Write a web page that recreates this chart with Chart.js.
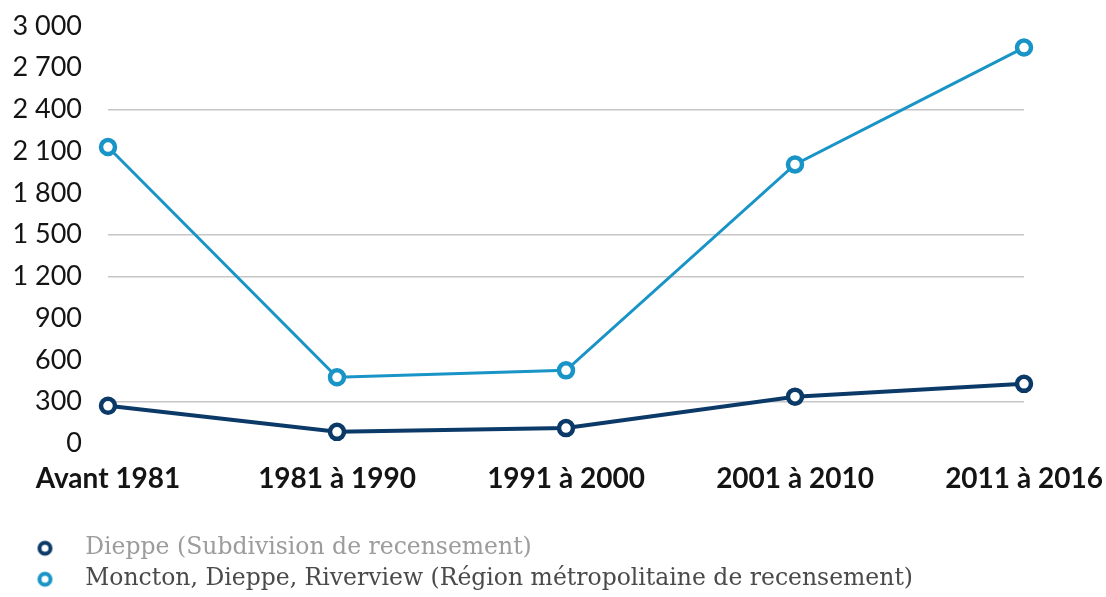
<!DOCTYPE html>
<html lang="fr">
<head>
<meta charset="utf-8">
<title>Logements selon la période de construction</title>
<script src="https://cdn.jsdelivr.net/npm/chart.js@4/dist/chart.umd.min.js"></script>
<style>
  html, body { margin: 0; padding: 0; background: #fff; }
  #wrap { width: 1106px; height: 597px; position: relative; }
</style>
</head>
<body>
<div id="wrap"><canvas id="chart"></canvas></div>
<script>
// data
const periods = ['Avant 1981', '1981 à 1990', '1991 à 2000', '2001 à 2010', '2011 à 2016'];
const dieppe = [270, 83, 110, 336, 428];
const moncton = [2130, 475, 525, 2005, 2845];
const seriesNames = [
  'Dieppe (Subdivision de recensement)',
  'Moncton, Dieppe, Riverview (Région métropolitaine de recensement)',
];
const gridValues = [300, 1200, 1500, 2400];

const navy = '#0c3a68';
const sky = '#1894c7';

// "3 000" style labels
const fmt = (v) => String(v).replace(/\B(?=(\d{3})+(?!\d))/g, ' ');

// ring marker for the legend (image keeps its own size, so the slot can be wide)
function ringImage(color) {
  const c = document.createElement('canvas');
  c.width = 60;
  c.height = 22;
  const g = c.getContext('2d');
  g.lineWidth = 4;
  g.strokeStyle = color;
  g.fillStyle = '#fff';
  g.beginPath();
  g.arc(32.5, 11, 5.5, 0, Math.PI * 2);
  g.fill();
  g.stroke();
  return c;
}
const legendColors = ['#9c9c9c', '#4a4a4a'];

new Chart(document.getElementById('chart'), {
  type: 'line',
  data: {
    labels: periods,
    datasets: [
      {
        label: seriesNames[0],
        data: dieppe,
        borderColor: navy,
        backgroundColor: '#fff',
        borderWidth: 4,
        pointRadius: 7,
        pointBorderWidth: 4.5,
        pointBackgroundColor: '#fff',
        pointBorderColor: navy,
        tension: 0,
      },
      {
        label: seriesNames[1],
        data: moncton,
        borderColor: sky,
        backgroundColor: '#fff',
        borderWidth: 3,
        pointRadius: 7,
        pointBorderWidth: 4.5,
        pointBackgroundColor: '#fff',
        pointBorderColor: sky,
        tension: 0,
      },
    ],
  },
  options: {
    responsive: true,
    maintainAspectRatio: false,
    animation: false,
    layout: { padding: { left: 4, right: 4, top: 0, bottom: -4 } },
    plugins: {
      tooltip: { enabled: false },
      legend: {
        position: 'bottom',
        align: 'start',
        labels: {
          usePointStyle: true,
          pointStyleWidth: 62,
          boxHeight: 18,
          padding: 7.5,
          font: { family: 'DejaVu Serif', size: 23.5 },
          generateLabels: (chart) => {
            const items = Chart.defaults.plugins.legend.labels.generateLabels(chart);
            items.forEach((it, i) => {
              it.pointStyle = ringImage(chart.data.datasets[i].borderColor);
              it.fontColor = legendColors[i];
            });
            return items;
          },
        },
      },
    },
    scales: {
      x: {
        offset: false,
        grid: { display: false, drawTicks: false },
        border: { display: false },
        afterFit: (scale) => {
          scale.paddingLeft = 0;
          scale.paddingRight = 82;
          scale.height += 15;
        },
        ticks: {
          color: '#141414',
          padding: 18.5,
          maxRotation: 0,
          font: { family: 'Lato', size: 28, weight: 'bold' },
        },
      },
      y: {
        min: 0,
        max: 3000,
        border: { display: false },
        afterFit: (scale) => {
          scale.width = 104;
          scale.paddingTop = 26;
          scale.paddingBottom = 0;
        },
        grid: {
          drawTicks: false,
          lineWidth: 1.5,
          color: (ctx) => (ctx.tick && gridValues.includes(ctx.tick.value) ? '#c6c6c6' : 'rgba(0,0,0,0)'),
        },
        ticks: {
          stepSize: 300,
          color: '#141414',
          padding: 26,
          font: { family: 'Lato', size: 27 },
          callback: (v) => fmt(v),
        },
      },
    },
  },
});
</script>
</body>
</html>
